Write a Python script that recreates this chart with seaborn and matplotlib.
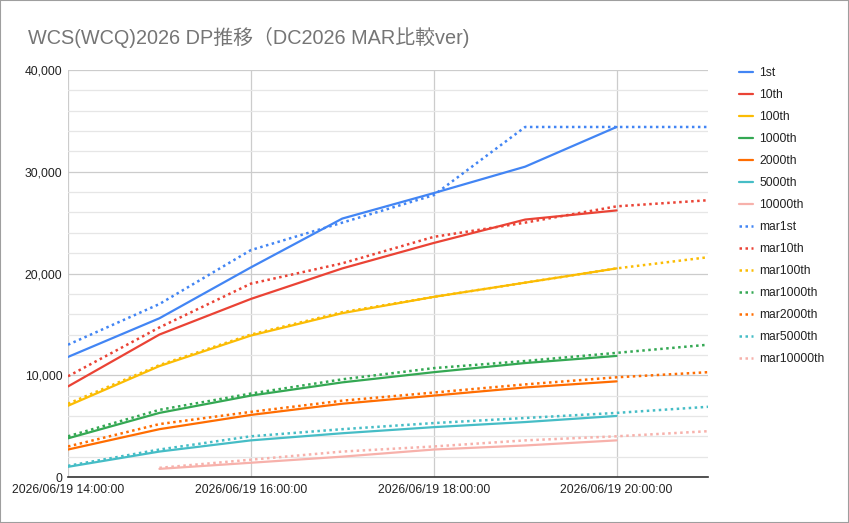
import numpy as np
import pandas as pd
import matplotlib
matplotlib.use("Agg")
import matplotlib.pyplot as plt
import matplotlib.dates as mdates
from matplotlib.ticker import MultipleLocator, FuncFormatter
import seaborn as sns

# データ (1時間ごと, 14:00〜21:00)
times = pd.date_range("2026-06-19 14:00", "2026-06-19 21:00", freq="h")
nan = np.nan

wcs_1st = [11800, 15600, 20600, 25400, 27900, 30500, 34400, nan]
wcs_10th = [8900, 14000, 17500, 20500, 23000, 25300, 26200, nan]
wcs_100th = [7000, 10900, 13900, 16100, 17700, 19100, 20500, nan]
wcs_1000th = [3800, 6300, 8000, 9300, 10300, 11200, 11900, nan]
wcs_2000th = [2700, 4700, 6100, 7200, 8000, 8800, 9400, nan]
wcs_5000th = [1000, 2500, 3600, 4300, 4900, 5400, 6000, nan]
wcs_10000th = [nan, 800, 1400, 2000, 2700, 3100, 3600, nan]

mar_1st = [13000, 17000, 22300, 25000, 27700, 34400, 34400, 34400]
mar_10th = [9900, 14700, 19000, 21000, 23600, 25000, 26600, 27200]
mar_100th = [7200, 11000, 14000, 16200, 17700, 19100, 20500, 21600]
mar_1000th = [4000, 6600, 8200, 9600, 10700, 11400, 12200, 13000]
mar_2000th = [3000, 5200, 6400, 7500, 8300, 9100, 9800, 10300]
mar_5000th = [1100, 2700, 4000, 4700, 5300, 5800, 6300, 6900]
mar_10000th = [nan, 900, 1700, 2500, 3000, 3600, 4000, 4500]

labels = ["1st", "10th", "100th", "1000th", "2000th", "5000th", "10000th"]
colors = ["#4285f4", "#ea4335", "#fbbc04", "#34a853", "#ff6d01", "#46bdc6", "#f7b1ab"]
wcs = [wcs_1st, wcs_10th, wcs_100th, wcs_1000th, wcs_2000th, wcs_5000th, wcs_10000th]
mar = [mar_1st, mar_10th, mar_100th, mar_1000th, mar_2000th, mar_5000th, mar_10000th]

sns.set_theme(style="white")
plt.rcParams['font.family'] = ['Liberation Sans', 'Noto Sans CJK JP', 'DejaVu Sans']

fig = plt.figure(figsize=(8.49, 5.23), dpi=100)
ax = fig.add_axes([68 / 849, 1 - 477 / 523, 640 / 849, 407 / 523])

for lab, col, vals in zip(labels, colors, wcs):
    sns.lineplot(x=times, y=vals, ax=ax, color=col, lw=1.6, label=lab)
for lab, col, vals in zip(labels, colors, mar):
    sns.lineplot(x=times, y=vals, ax=ax, color=col, lw=1.8, label="mar" + lab,
                 linestyle=(0, (1, 1.4)))

ax.set_xlim(times[0], times[-1])
ax.set_ylim(0, 40000)
ax.yaxis.set_major_locator(MultipleLocator(10000))
ax.yaxis.set_minor_locator(MultipleLocator(2000))
ax.yaxis.set_major_formatter(FuncFormatter(lambda v, p: f"{int(v):,}"))
ax.xaxis.set_major_locator(mdates.HourLocator(byhour=[14, 16, 18, 20]))
ax.xaxis.set_major_formatter(mdates.DateFormatter("%Y/%m/%d %H:%M:%S"))

ax.grid(which="major", color="#cccccc", lw=0.9)
ax.grid(which="minor", axis="y", color="#e6e6e6", lw=0.9)
ax.set_axisbelow(True)
for s in ["top", "right", "left"]:
    ax.spines[s].set_visible(False)
ax.spines["bottom"].set_color("#333333")
ax.spines["bottom"].set_linewidth(1.2)
ax.tick_params(axis="both", which="both", length=0, labelsize=8.7, colors="#222222")
ax.tick_params(axis="y", pad=4)
ax.tick_params(axis="x", pad=5)
ax.set_xlabel("")
ax.set_ylabel("")

leg = ax.legend(loc="upper left", bbox_to_anchor=(728 / 849, 1 - 56 / 523),
                bbox_transform=fig.transFigure, frameon=False, fontsize=8.7,
                handlelength=1.2, handletextpad=0.5, labelspacing=0.83)
for t in leg.get_texts():
    t.set_color("#222222")

fig.text(28 / 849, 1 - 37 / 523, "WCS(WCQ)2026 DP推移（DC2026 MAR比較ver)",
         fontsize=14.3, color="#757575", va="center", ha="left")

fig.patches.append(plt.Rectangle((0, 0), 1, 1, transform=fig.transFigure,
                                 fill=False, edgecolor="#9e9e9e", lw=1.5))

fig.savefig("out.png", dpi=100)
